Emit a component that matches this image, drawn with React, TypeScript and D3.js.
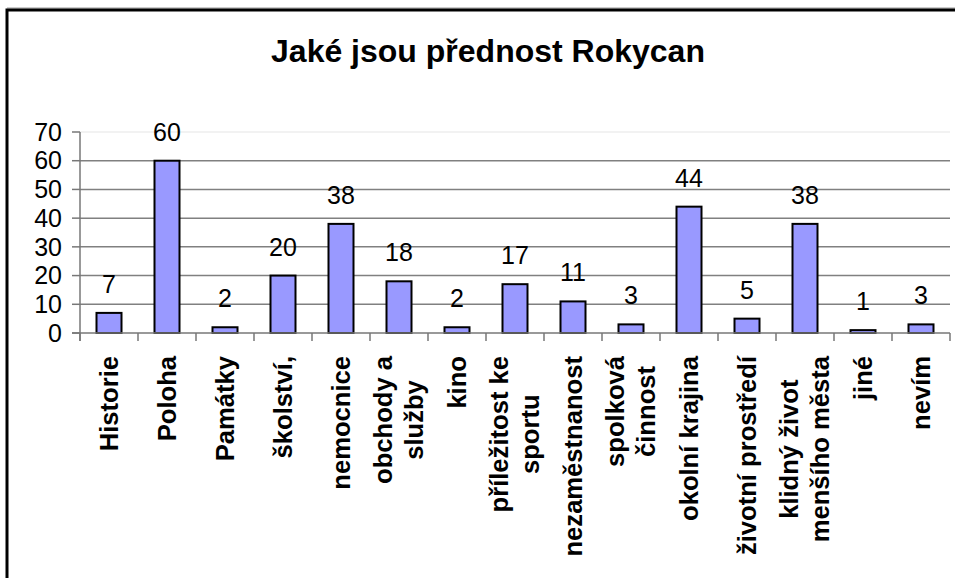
import React from "react";
import * as d3 from "d3";

const title = "Jaké jsou přednost Rokycan";
const categories: string[][] = [
  ["Historie"],
  ["Poloha"],
  ["Památky"],
  ["školství,"],
  ["nemocnice"],
  ["obchody a", "služby"],
  ["kino"],
  ["příležitost ke", "sportu"],
  ["nezaměstnanost"],
  ["spolková", "činnost"],
  ["okolní krajina"],
  ["životní prostředí"],
  ["klidný život", "menšího města"],
  ["jiné"],
  ["nevím"],
];
const values = [7, 60, 2, 20, 38, 18, 2, 17, 11, 3, 44, 5, 38, 1, 3];
const yTicks = [0, 10, 20, 30, 40, 50, 60, 70];

const W = 955;
const H = 578;
const FONT = "'Liberation Sans', Arial, Helvetica, sans-serif";

let measureCtx: CanvasRenderingContext2D | null = null;
function measure(text: string, font: string): number {
  if (!measureCtx) {
    const c = document.createElement("canvas");
    measureCtx = c.getContext("2d");
  }
  if (!measureCtx) return text.length * 14;
  measureCtx.font = font;
  return measureCtx.measureText(text).width;
}

export default function App() {
  const left = 80;
  const right = 950;
  const top = 132;
  const bottom = 333;

  const x = d3
    .scaleBand<number>()
    .domain(d3.range(categories.length))
    .range([left, right])
    .paddingInner(0)
    .paddingOuter(0);
  const y = d3.scaleLinear().domain([0, 70]).range([bottom, top]);
  const bw = x.bandwidth();
  const barW = 25;

  const catSize = 25.6;
  const labelFont = `bold ${catSize}px ${FONT}`;
  const labelTop = 356;
  const lineH = 31;

  return (
    <svg
      width={W}
      height={H}
      style={{ position: "absolute", left: 0, top: 0, background: "#fff" }}
      fontFamily={FONT}
    >
      <rect x={0} y={0} width={W} height={H} fill="#fff" />
      <line x1={7} x2={W} y1={8} y2={8} stroke="#999" strokeWidth={1} />
      <rect x={7} y={10} width={W + 20} height={H + 20} fill="none" stroke="#000" strokeWidth={3} />

      <text x={488} y={62} textAnchor="middle" fontSize={32} fontWeight="bold" fill="#000">
        {title}
      </text>

      {/* gridlines */}
      {yTicks.map((t) =>
        t === 0 ? null : (
          <line
            key={"g" + t}
            x1={left}
            x2={right}
            y1={y(t)}
            y2={y(t)}
            stroke={t === 70 ? "#eeeeee" : "#808080"}
            strokeWidth={1.5}
          />
        )
      )}

      {/* bars */}
      {values.map((v, i) => {
        const cx = (x(i) as number) + bw / 2;
        return (
          <rect
            key={"b" + i}
            x={cx - barW / 2}
            y={y(v)}
            width={barW}
            height={bottom - y(v)}
            fill="#9999ff"
            stroke="#000"
            strokeWidth={2}
          />
        );
      })}

      {/* axes */}
      <line x1={left} x2={left} y1={top} y2={bottom + 8} stroke="#777" strokeWidth={1.5} />
      <line x1={left - 8} x2={right} y1={bottom} y2={bottom} stroke="#777" strokeWidth={1.5} />
      {yTicks.map((t) => (
        <line key={"yt" + t} x1={left - 8} x2={left} y1={y(t)} y2={y(t)} stroke="#777" strokeWidth={1.5} />
      ))}
      {d3.range(categories.length + 1).map((i) => {
        const xx = i < categories.length ? (x(i) as number) : right;
        return (
          <line key={"xt" + i} x1={xx} x2={xx} y1={bottom} y2={bottom + 8} stroke="#777" strokeWidth={1.5} />
        );
      })}

      {/* y tick labels */}
      {yTicks.map((t) => (
        <text
          key={"yl" + t}
          x={62}
          y={y(t)}
          dy="0.35em"
          textAnchor="end"
          fontSize={25}
          fill="#000"
        >
          {t}
        </text>
      ))}

      {/* data labels */}
      {values.map((v, i) => (
        <text
          key={"dl" + i}
          x={(x(i) as number) + bw / 2}
          y={y(v) - 20}
          textAnchor="middle"
          fontSize={25}
          fill="#000"
        >
          {v}
        </text>
      ))}

      {/* category labels */}
      {categories.map((lines, i) => {
        const cx = (x(i) as number) + bw / 2;
        const maxW = d3.max(lines, (l) => measure(l, labelFont)) || 0;
        const cy = labelTop + maxW / 2;
        return lines.map((line, j) => {
          const off = (j - (lines.length - 1) / 2) * lineH;
          const lx = cx + off;
          return (
            <text
              key={"cl" + i + "-" + j}
              transform={`translate(${lx},${cy}) rotate(-90)`}
              dy="0.35em"
              textAnchor="middle"
              fontSize={catSize}
              fontWeight="bold"
              fill="#000"
            >
              {line}
            </text>
          );
        });
      })}
    </svg>
  );
}
